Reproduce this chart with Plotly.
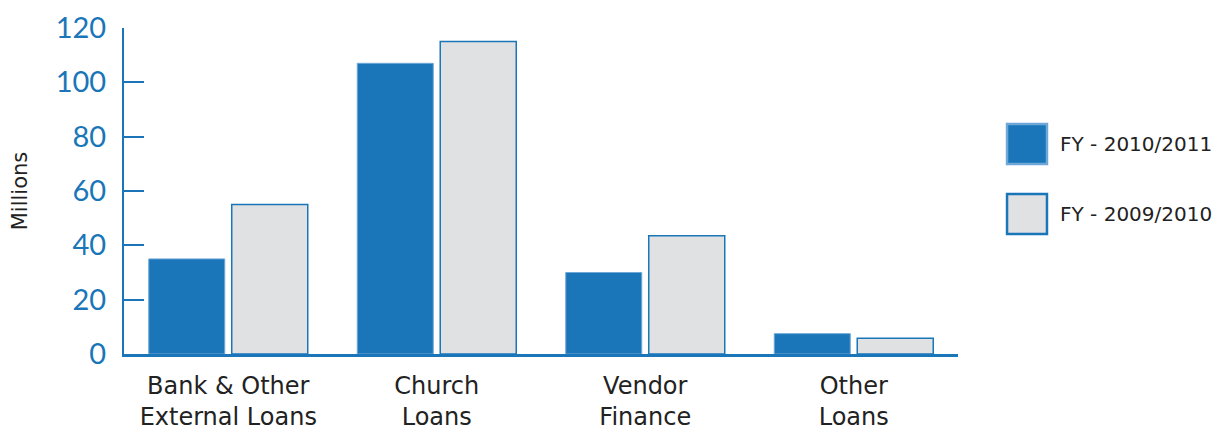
import plotly.graph_objects as go

categories = ["Bank & Other<br>External Loans", "Church<br>Loans", "Vendor<br>Finance", "Other<br>Loans"]
series_names = ["FY - 2010/2011", "FY - 2009/2010"]
fy_2010_2011 = [35, 107, 30, 7.5]
fy_2009_2010 = [55, 115, 43.5, 5.8]
y_ticks = [0, 20, 40, 60, 80, 100, 120]

BLUE = "#1a76b8"
GRAY = "#e0e1e3"
FONT = "Lato, 'Open Sans', sans-serif"
TFONT = "'DejaVu Sans', sans-serif"

fig = go.Figure()
fig.add_trace(go.Bar(x=categories, y=fy_2010_2011, name=series_names[0],
                     marker=dict(color=BLUE, line=dict(color="#6ea8d8", width=1))))
fig.add_trace(go.Bar(x=categories, y=fy_2009_2010, name=series_names[1],
                     marker=dict(color=GRAY, line=dict(color=BLUE, width=1.5))))

fig.update_layout(
    width=1214, height=430,
    margin=dict(l=124, r=256, t=28, b=76),
    paper_bgcolor="white", plot_bgcolor="white",
    barmode="group", bargap=0.204, bargroupgap=0.084,
    showlegend=False,
    font=dict(family=FONT, color="#222222"),
)
fig.update_xaxes(
    showline=True, linecolor=BLUE, linewidth=3, ticks="",
    tickfont=dict(size=24, color="#222222", family=TFONT), ticklabelstandoff=8,
    automargin=False,
    range=[-0.5, 3.5], showgrid=False, zeroline=False,
)
fig.update_yaxes(
    range=[0, 120], tickvals=y_ticks, showline=True, linecolor=BLUE, linewidth=2,
    ticks="inside", ticklen=20, tickwidth=2, tickcolor=BLUE,
    tickfont=dict(size=29, color=BLUE, family=FONT), ticklabelstandoff=10,
    automargin=False,
    showgrid=False, zeroline=False,
    title=dict(text="Millions", font=dict(size=21, color="#222222", family=TFONT), standoff=22),
)

# manual legend
legend_boxes = [(0.7055, 0.5828, BLUE, "#6ea8d8"), (0.4908, 0.3681, GRAY, BLUE)]
for name, (y1, y0, fill, line) in zip(series_names, legend_boxes):
    fig.add_shape(type="rect", xref="paper", yref="paper", x0=1.0588, x1=1.1067,
                  y0=y0, y1=y1, fillcolor=fill, line=dict(color=line, width=2.5))
    fig.add_annotation(xref="paper", yref="paper", x=1.1199, y=(y0 + y1) / 2,
                       text=name, showarrow=False, xanchor="left", yanchor="middle",
                       font=dict(size=20, color="#222222", family=TFONT))

fig.write_html("out.html", config={"displayModeBar": False},
               post_script="document.body.style.margin='0';")
